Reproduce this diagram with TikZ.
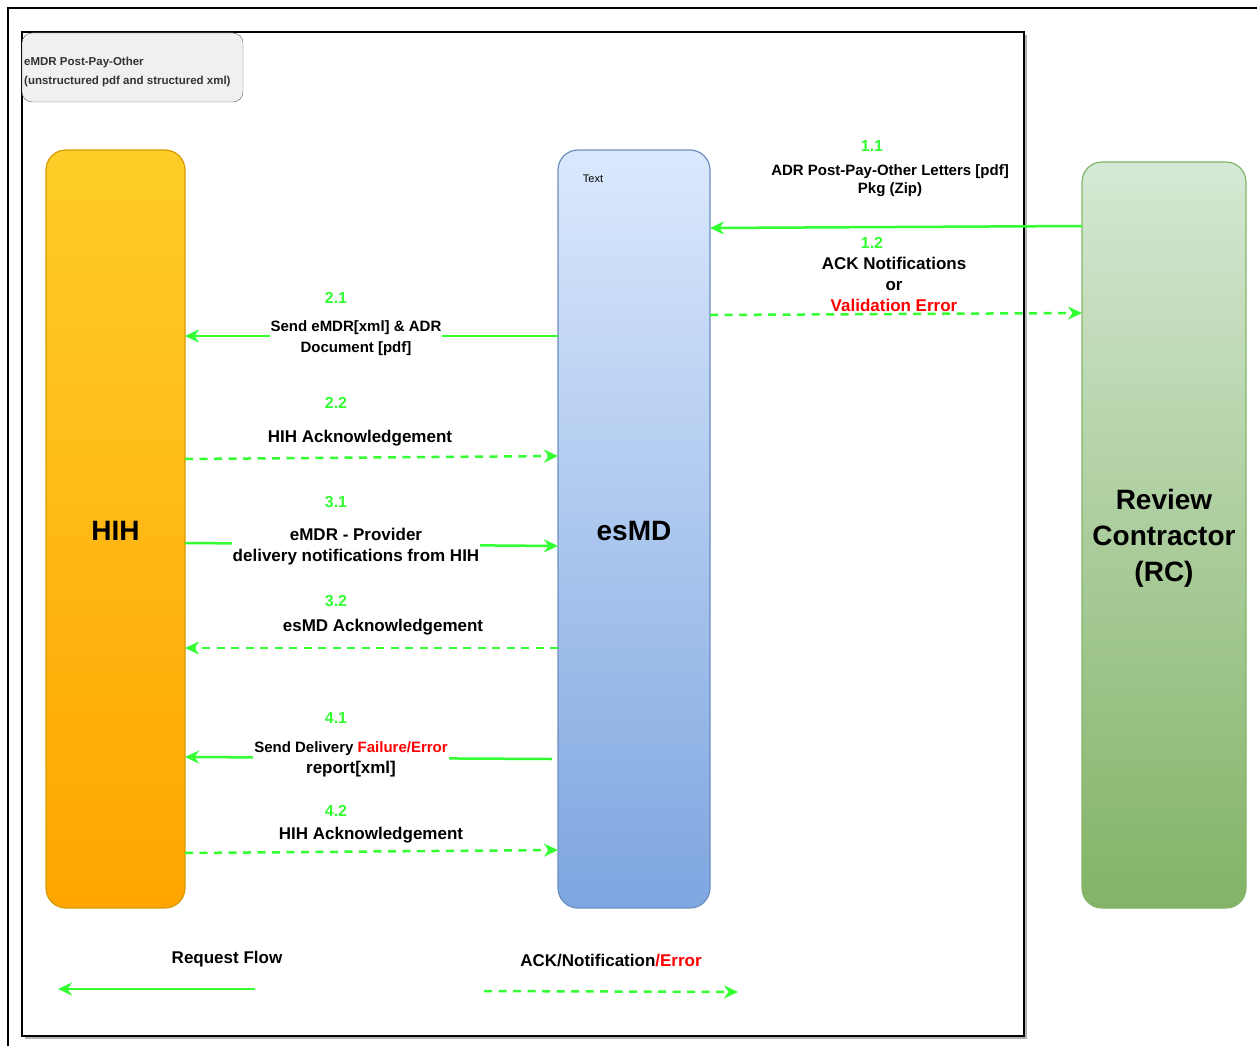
\documentclass[tikz,border=0pt]{standalone}
\usepackage{fontspec}
\setmainfont{Liberation Sans}
\usetikzlibrary{arrows.meta}
\definecolor{flowgreen}{HTML}{33FF33}
\definecolor{errred}{HTML}{FF0000}
\definecolor{hihtop}{HTML}{FFCD28}
\definecolor{hihbot}{HTML}{FFA500}
\definecolor{hihline}{HTML}{D79B00}
\definecolor{esmdtop}{HTML}{DAE8FC}
\definecolor{esmdbot}{HTML}{7EA6E0}
\definecolor{esmdline}{HTML}{6C8EBF}
\definecolor{rctop}{HTML}{D5E8D4}
\definecolor{rcbot}{HTML}{82B366}
\definecolor{rcline}{HTML}{82B366}
\begin{document}
\begin{tikzpicture}[x=1pt,y=-1pt,
  lane/.style={rectangle, rounded corners=20pt, line width=1.2pt, inner sep=0pt, outer sep=0pt, font=\bfseries\fontsize{28}{36}\selectfont},
  req/.style={draw=flowgreen, line width=2.5pt, -{Stealth[length=14pt,width=13pt,inset=4.5pt]}},
  ack/.style={draw=flowgreen, line width=2.5pt, dash pattern=on 8pt off 6.5pt, -{Stealth[length=14pt,width=13pt,inset=4.5pt]}},
  num/.style={text=flowgreen, font=\bfseries\fontsize{16}{19}\selectfont, inner sep=0pt},
  lblA/.style={font=\bfseries\fontsize{15}{21}\selectfont, align=center, inner sep=1pt},
  lblB/.style={font=\bfseries\fontsize{17}{21}\selectfont, align=center, inner sep=1pt},
  blank/.style={fill=white}
]
\useasboundingbox (0,0) rectangle (1257,1046);
% outer frame lines
\draw[line width=2pt] (8,1046) -- (8,8) -- (1257,8);
% inner frame with shadow
\draw[line width=2pt, black!30] (25,1038) -- (1026,1038) -- (1026,35);
\node[draw, line width=1.3pt, minimum width=1002pt, minimum height=1004pt, inner sep=0pt, outer sep=0pt] (frame) at (523,534) {};
% title box
\node[draw=black!60, fill=black!6, rounded corners=10pt, minimum width=221pt, minimum height=69pt, inner sep=0pt] (titlebox) at (132.5,67.5) {};
\node[anchor=west, align=left, inner sep=0pt, text=black!80, font=\bfseries\fontsize{11.5}{19}\selectfont] (titletext) at (24,72.5) {eMDR Post-Pay-Other\\(unstructured pdf and structured xml)};
% lanes
\node[lane, shade, top color=hihtop, bottom color=hihbot, draw=hihline, minimum width=139pt, minimum height=758pt] (hih) at (115.5,529) {\raisebox{-2pt}[\height][\depth]{HIH}};
\node[lane, shade, top color=esmdtop, bottom color=esmdbot, draw=esmdline, minimum width=152pt, minimum height=758pt] (esmd) at (634,529) {\raisebox{-2pt}[\height][\depth]{esMD}};
\node[lane, shade, top color=rctop, bottom color=rcbot, draw=rcline, minimum width=164pt, minimum height=746pt] (rc) at (1164,535) {\raisebox{-3.5pt}[\height][\depth]{\begin{tabular}{@{}c@{}}Review\\Contractor\\(RC)\end{tabular}}};
\node[font=\fontsize{11}{13}\selectfont, inner sep=0pt] (esmdtext) at (593,179) {Text};
% 1.1 / 1.2
\draw[req] (rc.west |- 0,226) -- (esmd.east |- 0,228);
\draw[ack] (esmd.east |- 0,315) -- (rc.west |- 0,313);
\node[num] (n11) at (872,146) {1.1};
\node[font=\bfseries\fontsize{15}{18}\selectfont, align=center, inner sep=0pt] (l11) at (890,181) {ADR Post-Pay-Other Letters [pdf]\\Pkg (Zip)};
\node[num] (n12) at (872,243) {1.2};
\node[lblB, inner sep=0pt] (l12) at (894,284) {ACK Notifications\\or\\\textcolor{errred}{Validation Error}};
% 2.1 / 2.2
\draw[req] (esmd.west |- 0,336) -- (hih.east |- 0,336);
\node[num] (n21) at (336,298) {2.1};
\node[lblA, blank] (l21) at (356,338) {Send eMDR[xml] \& ADR\\Document [pdf]};
\draw[ack] (hih.east |- 0,459) -- (esmd.west |- 0,456);
\node[num] (n22) at (336,403) {2.2};
\node[lblB] (l22) at (360,438) {HIH Acknowledgement};
% 3.1 / 3.2
\draw[req] (hih.east |- 0,543) -- (esmd.west |- 0,546);
\node[num] (n31) at (336,502) {3.1};
\node[lblB, blank] (l31) at (356,547) {eMDR - Provider\\delivery notifications from HIH};
\draw[ack] (esmd.west |- 0,648) -- (hih.east |- 0,648);
\node[num] (n32) at (336,601) {3.2};
\node[lblB] (l32) at (383,627) {esMD Acknowledgement};
% 4.1 / 4.2
\coordinate (s41) at (552,759);
\draw[req] (s41) -- (hih.east |- 0,757);
\node[num] (n41) at (336,718) {4.1};
\node[lblA, blank] (l41) at (351,759) {Send Delivery \textcolor{errred}{Failure/Error}\\{\fontsize{17}{21}\selectfont report[xml]}};
\draw[ack] (hih.east |- 0,853) -- (esmd.west |- 0,850);
\node[num] (n42) at (336,811) {4.2};
\node[lblB] (l42) at (371,835) {HIH Acknowledgement};
% legend
\node[lblB] (legreq) at (227,959) {Request Flow};
\coordinate (lr1) at (255,989);
\coordinate (lr2) at (58,989);
\draw[req] (lr1) -- (lr2);
\node[lblB] (legack) at (611,960) {ACK/Notification\textcolor{errred}{/Error}};
\coordinate (la1) at (484,991);
\coordinate (la2) at (738,992);
\draw[ack] (la1) -- (la2);
\end{tikzpicture}
\end{document}
